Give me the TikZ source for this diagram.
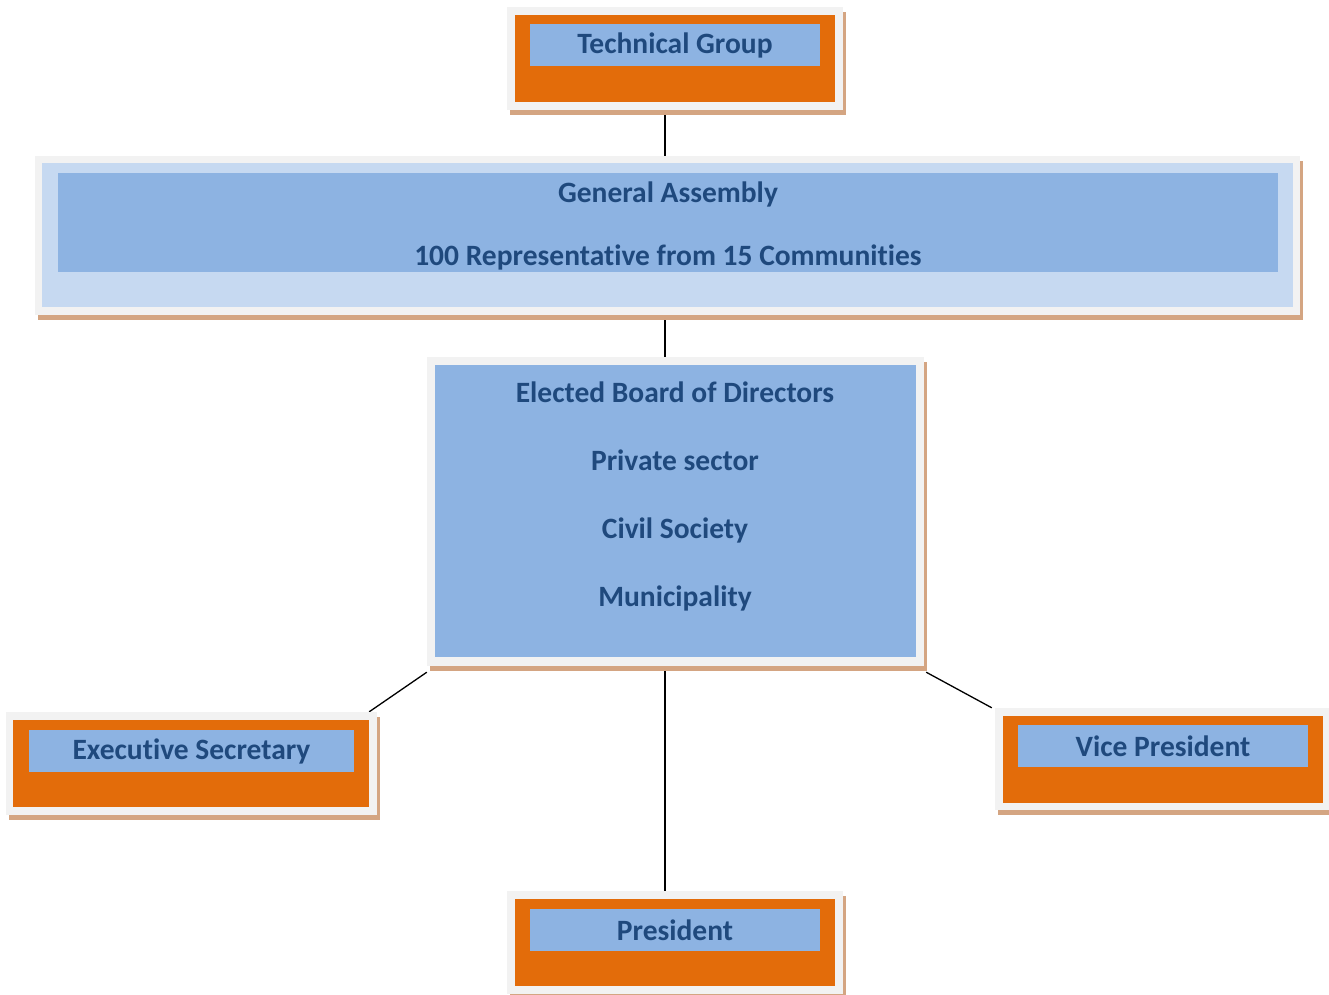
\documentclass[tikz,border=0pt]{standalone}
\usepackage{fontspec}
\setmainfont{Carlito}[Ligatures=NoCommon]
\usetikzlibrary{shadows,backgrounds}
\definecolor{frameGray}{HTML}{F2F2F2}
\definecolor{shadowTan}{HTML}{D4A582}
\definecolor{boxOrange}{HTML}{E36C0A}
\definecolor{boxBlue}{HTML}{8DB3E2}
\definecolor{paleBlue}{HTML}{C6D9F1}
\definecolor{textBlue}{HTML}{1F497D}
\tikzset{
  frame/.style={rectangle, fill=frameGray, inner sep=0pt,
    drop shadow={shadow xshift=3pt, shadow yshift=-5pt, fill=shadowTan, opacity=1}},
  orangebox/.style={rectangle, fill=boxOrange, inner sep=0pt},
  palebox/.style={rectangle, fill=paleBlue, inner sep=0pt},
  bluebox/.style={rectangle, fill=boxBlue, inner sep=0pt, text=textBlue,
    font=\fontsize{29.5}{35}\bfseries},
  boxtext/.style={text=textBlue, inner sep=0pt, align=center},
  link/.style={line width=1.3pt}
}
\begin{document}
\begin{tikzpicture}[x=1pt,y=-1pt]
  \useasboundingbox (0,0) rectangle (1329,994);
  % technical group
  \node[frame, minimum width=336pt, minimum height=103pt] (tg) at (675,58.5) {};
  \node[orangebox, minimum width=320pt, minimum height=87pt] (tgo) at (675,58.5) {};
  \node[bluebox, minimum width=290pt, minimum height=42pt] (tgb) at (675,45) {Technical Group};
  % general assembly
  \node[frame, minimum width=1265pt, minimum height=159pt] (ga) at (667.5,235.5) {};
  \node[palebox, minimum width=1251pt, minimum height=144pt] (gap) at (667.5,235) {};
  \node[bluebox, minimum width=1220pt, minimum height=99pt] (gab) at (668,222.5) {};
  \node[boxtext, font=\fontsize{29.5}{63}\bfseries] (gat) at (668,225.5)
    {General Assembly\\100 Representative from 15 Communities};
  % board
  \node[frame, minimum width=497pt, minimum height=309pt] (bd) at (675.5,511.5) {};
  \node[bluebox, minimum width=481pt, minimum height=292pt] (bdb) at (675.5,511) {};
  \node[boxtext, font=\fontsize{29.5}{68}\bfseries] (bdt) at (675,496)
    {Elected Board of Directors\\Private sector\\Civil Society\\Municipality};
  % executive secretary
  \node[frame, minimum width=371pt, minimum height=103pt] (ex) at (191.5,763.5) {};
  \node[orangebox, minimum width=356pt, minimum height=87pt] (exo) at (191,763.5) {};
  \node[bluebox, minimum width=325pt, minimum height=42pt] (exb) at (191.5,751) {Executive Secretary};
  % vice president
  \node[frame, minimum width=336pt, minimum height=102pt] (vp) at (1163,759) {};
  \node[orangebox, minimum width=320pt, minimum height=87pt] (vpo) at (1163,759.5) {};
  \node[bluebox, minimum width=290pt, minimum height=42pt] (vpb) at (1163,746) {Vice President};
  % president
  \node[frame, minimum width=336pt, minimum height=103pt] (pr) at (675,942.5) {};
  \node[orangebox, minimum width=320pt, minimum height=87pt] (pro) at (675,942.5) {};
  \node[bluebox, minimum width=290pt, minimum height=42pt] (prb) at (675,930) {President};
  % links
  \begin{pgfonlayer}{background}
    \draw[link] ([xshift=-10pt]tg.south) -- ([xshift=-10pt]tg.south |- ga.north);
    \draw[link] ([xshift=-2.5pt]ga.south) -- ([xshift=-2.5pt]ga.south |- bd.north);
    \draw[link] ([xshift=-10.5pt]bd.south) -- ([xshift=-10pt]pr.north);
    \draw[link] ([yshift=-6pt]bd.south west) -- ([xshift=-8pt]ex.north east);
    \draw[link] ([xshift=2pt,yshift=-6pt]bd.south east) -- ([xshift=-3pt]vp.north west);
  \end{pgfonlayer}
\end{tikzpicture}
\end{document}
